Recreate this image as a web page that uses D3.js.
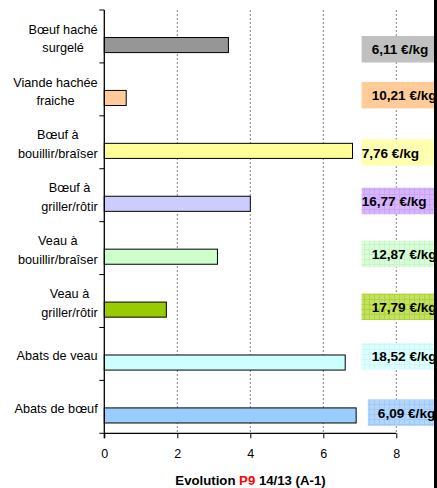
<!DOCTYPE html>
<html>
<head>
<meta charset="utf-8">
<script src="https://cdn.jsdelivr.net/npm/d3@7/dist/d3.min.js"></script>
<style>
  body { margin: 0; background: #fff; }
  text { font-family: "Liberation Sans", Arial, sans-serif; }
</style>
</head>
<body>
<svg id="chart" width="437" height="488"></svg>
<script>
// data
var categories = [
  ["Bœuf haché", "surgelé"],
  ["Viande hachée", "fraiche"],
  ["Bœuf à", "bouillir/braîser"],
  ["Bœuf à", "griller/rôtir"],
  ["Veau à", "bouillir/braîser"],
  ["Veau à", "griller/rôtir"],
  ["Abats de veau"],
  ["Abats de bœuf"]
];
var values = [3.4, 0.6, 6.8, 4.0, 3.1, 1.7, 6.6, 6.9];
var prices = ["6,11 €/kg", "10,21 €/kg", "7,76 €/kg", "16,77 €/kg",
              "12,87 €/kg", "17,79 €/kg", "18,52 €/kg", "6,09 €/kg"];
var xTicks = [0, 2, 4, 6, 8];

var barColors = ["#969696", "#FFCC99", "#FFFF99", "#CCCCFF",
                 "#CCFFCC", "#99CC00", "#CCFFFF", "#99CCFF"];
// price boxes: [base, grid line] (null = plain fill)
var boxColors = [["#C0C0C0", null], ["#FFCC99", null], ["#FFFFA6", "#FFFFC4"],
                 ["#D8B6FF", "#CBA4F8"], ["#D9FFD9", "#C8F4C8"], ["#C4E262", "#AED43A"],
                 ["#DDFFFF", "#CFF7F7"], ["#B3D6FF", "#A0CAF6"]];

var svg = d3.select("#chart");
var mLeft = 104.3, mRight = 396.3, mTop = 10, mBottom = 433.3;

var x = d3.scaleLinear().domain([0, 8]).range([mLeft, mRight]);
var y = d3.scaleBand().domain(d3.range(categories.length)).range([mTop, mBottom]);
var bw = y.bandwidth();

// patterns for the price boxes
var defs = svg.append("defs");
boxColors.forEach(function(c, i) {
  if (!c[1]) return;
  var p = defs.append("pattern").attr("id", "pat" + i)
    .attr("width", 5).attr("height", 5).attr("patternUnits", "userSpaceOnUse");
  p.append("rect").attr("width", 5).attr("height", 5).attr("fill", c[0]);
  p.append("path").attr("d", "M4.5,0V5M0,4.5H5").attr("stroke", c[1]).attr("stroke-width", 1);
});

// grid lines
svg.append("g").selectAll("line")
  .data(xTicks.slice(1))
  .enter().append("line")
  .attr("x1", function(d) { return x(d); })
  .attr("x2", function(d) { return x(d); })
  .attr("y1", mTop).attr("y2", mBottom)
  .attr("stroke", "#808080")
  .attr("stroke-dasharray", "2,2");

// bars
svg.append("g").selectAll("rect")
  .data(values)
  .enter().append("rect")
  .attr("x", x(0))
  .attr("y", function(d, i) { return y(i) + bw * 0.52; })
  .attr("width", function(d) { return x(d) - x(0); })
  .attr("height", bw * 0.285)
  .attr("fill", function(d, i) { return barColors[i]; })
  .attr("stroke", "#000")
  .attr("stroke-width", 1);

// x axis
var xAxis = svg.append("g")
  .attr("transform", "translate(0," + mBottom + ")")
  .call(d3.axisBottom(x).tickValues(xTicks).tickSize(5).tickPadding(11).tickFormat(d3.format("d")));
xAxis.select(".domain").attr("stroke", "#000").attr("stroke-width", 1.3).attr("d", "M" + mLeft + ",0H" + mRight);
xAxis.selectAll("text").attr("font-size", "12.5px").attr("fill", "#000")
  .style("font-family", "'Liberation Sans', Arial, sans-serif");

// y axis line and category ticks
svg.append("line").attr("x1", mLeft).attr("x2", mLeft).attr("y1", mTop).attr("y2", mBottom + 5)
  .attr("stroke", "#000").attr("stroke-width", 1.3);
svg.append("g").selectAll("line")
  .data(d3.range(categories.length + 1))
  .enter().append("line")
  .attr("x1", mLeft - 5).attr("x2", mLeft)
  .attr("y1", function(i) { return mTop + i * bw; })
  .attr("y2", function(i) { return mTop + i * bw; })
  .attr("stroke", "#000");

// category labels: lines centred inside a block right-aligned to the axis
var labelRight = 97.7, lineH = 18.6;
categories.forEach(function(lines, i) {
  var g = svg.append("g");
  var cy = y(i) + bw / 2 + 2;
  var y0 = cy - (lines.length - 1) * lineH / 2;
  var t = g.selectAll("text").data(lines).enter().append("text")
    .attr("y", function(d, j) { return y0 + j * lineH; })
    .attr("dy", "0.35em")
    .attr("font-size", "12.7px")
    .attr("text-anchor", "middle")
    .text(function(d) { return d; });
  var wmax = 0;
  t.each(function() { wmax = Math.max(wmax, this.getComputedTextLength()); });
  t.attr("x", labelRight - wmax / 2);
});

// price boxes
var boxDy = [26, 19, 23.5, 19, 19, 19, 15.5, 19];
var boxLeft = [7.05, 7.05, 7.05, 7.05, 7.05, 7.05, 7.05, 7.22];
var boxPad = [10, 10, 0, 0, 10, 10, 10, 10];
var boxes = svg.append("g");
prices.forEach(function(p, i) {
  var bx = x(boxLeft[i]), by = y(i) + boxDy[i];
  boxes.append("rect")
    .attr("x", bx).attr("y", by)
    .attr("width", 437 - bx).attr("height", 26.5)
    .attr("fill", boxColors[i][1] ? "url(#pat" + i + ")" : boxColors[i][0]);
  boxes.append("text")
    .attr("x", bx + boxPad[i]).attr("y", by + 13.5)
    .attr("dy", "0.35em")
    .attr("font-size", "13.6px").attr("font-weight", "bold")
    .text(p);
});

// right black border
svg.append("rect").attr("x", 434).attr("y", 0).attr("width", 3).attr("height", 488).attr("fill", "#000");

// axis title
var title = svg.append("text")
  .attr("x", 250.5).attr("y", 480).attr("dy", "0.35em")
  .attr("text-anchor", "middle")
  .attr("font-size", "13.2px").attr("font-weight", "bold");
title.append("tspan").text("Evolution ");
title.append("tspan").attr("fill", "#FF0000").text("P9");
title.append("tspan").text(" 14/13 (A-1)");
</script>
</body>
</html>
